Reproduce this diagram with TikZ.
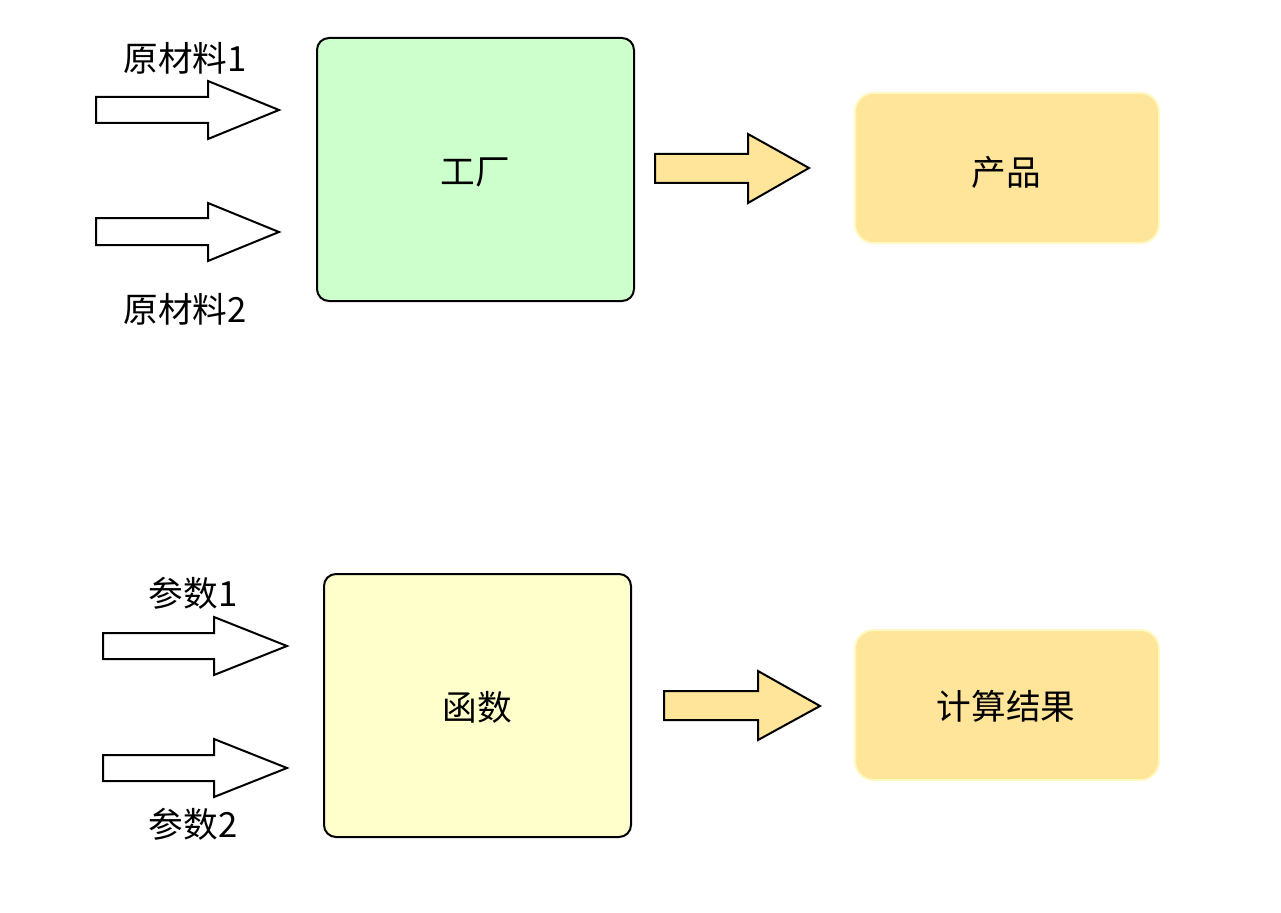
\documentclass[tikz,border=0pt]{standalone}
\usepackage{fontspec}
\setmainfont{Noto Sans CJK SC}
\definecolor{factoryfill}{HTML}{CCFFCC}
\definecolor{funcfill}{HTML}{FFFFCC}
\definecolor{prodfill}{HTML}{FFE599}
\definecolor{prodline}{HTML}{FFF8C0}
\begin{document}
\begin{tikzpicture}[x=0.75pt,y=-0.75pt,
  every node/.style={font=\fontsize{26}{31}\selectfont, inner sep=0pt},
  machine/.style={draw=black, line width=1.5pt, rounded corners=9pt},
  result/.style={draw=prodline, fill=prodfill, line width=1.5pt, rounded corners=14pt},
  inarrow/.style={draw=black, fill=white, line width=1.5pt},
  outarrow/.style={draw=black, fill=prodfill, line width=1.5pt}]
\useasboundingbox (0,0) rectangle (1281,913);
% top
\draw[machine, fill=factoryfill] (317,38) rectangle (634,301);
\node (factory) at (475,172) {工厂};
\draw[result] (855,93) rectangle (1159,243);
\node (product) at (1006,172) {产品};
\node (m1) at (185,58) {原材料1};
\node (m2) at (185,309) {原材料2};
\draw[inarrow] (96,97) -- (208,97) -- (208,81) -- (279,110) -- (208,139) -- (208,123) -- (96,123) -- cycle;
\draw[inarrow] (96,218) -- (208,218) -- (208,203) -- (279,232) -- (208,261) -- (208,245) -- (96,245) -- cycle;
\draw[outarrow] (655,154) -- (748,154) -- (748,134) -- (809,168) -- (748,203) -- (748,183) -- (655,183) -- cycle;
% bottom
\draw[machine, fill=funcfill] (324,574) rectangle (631,837);
\node (func) at (477,707) {函数};
\draw[result] (855,630) rectangle (1159,780);
\node (res) at (1006,706) {计算结果};
\node (p1) at (193,593) {参数1};
\node (p2) at (193,824) {参数2};
\draw[inarrow] (103,633) -- (214,633) -- (214,617) -- (287,646) -- (214,675) -- (214,659) -- (103,659) -- cycle;
\draw[inarrow] (103,755) -- (214,755) -- (214,739) -- (287,768) -- (214,797) -- (214,781) -- (103,781) -- cycle;
\draw[outarrow] (664,691) -- (758,691) -- (758,671) -- (820,706) -- (758,740) -- (758,720) -- (664,720) -- cycle;
\end{tikzpicture}
\end{document}
